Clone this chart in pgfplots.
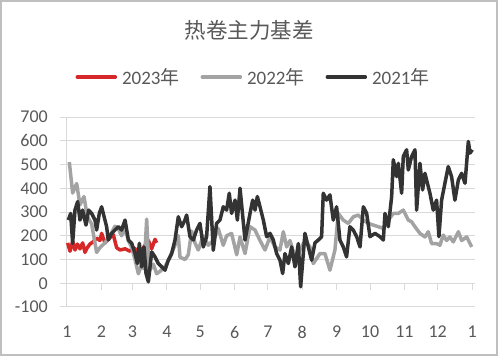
\documentclass[border=0pt]{standalone}
\usepackage{pgfplots}
\pgfplotsset{compat=1.18}
\usepackage{fontspec}
\setmainfont{Carlito}
\newfontfamily\cjk{Noto Sans CJK SC}
\definecolor{c23}{RGB}{214,40,40}
\definecolor{c22}{RGB}{163,163,163}
\definecolor{c21}{RGB}{51,51,51}
\definecolor{txt}{RGB}{89,89,89}
\definecolor{grd}{RGB}{217,217,217}
\definecolor{frm}{RGB}{191,191,191}
\begin{document}
\begin{tikzpicture}[x=1pt,y=1pt]
\path[use as bounding box] (0,0) rectangle (498,356);
\fill[white] (0,0) rectangle (498,356);
\draw[frm, line width=2pt] (1,1) rectangle (497,355);
\node[text=txt, font=\cjk\fontsize{21.5}{24}\selectfont] at (249,326) {热卷主力基差};
\begin{axis}[
  at={(60pt,49pt)}, anchor=south west,
  scale only axis, width=415pt, height=190pt,
  xmin=-6.3, xmax=367.6, ymin=-100, ymax=700,
  axis line style={draw=none},
  ytick={-100,0,100,200,300,400,500,600,700},
  yticklabels={-100,0,100,200,300,400,500,600,700},
  xtick={0,31,59,90,120,151,181,212,243,273,304,334,365},
  xticklabels={1,2,3,4,5,6,7,8,9,10,11,12,1},
  major tick length=0pt,
  ymajorgrids, grid style={grd, line width=1pt},
  tick label style={text=txt, font=\fontsize{18}{20}\selectfont, inner sep=0pt},
  yticklabel style={anchor=east, xshift=-12pt},
  xticklabel style={anchor=north, yshift=-19pt},
  legend columns=3,
  legend style={draw=none, fill=none, at={(0.464,1.2105)}, anchor=center,
    font=\fontsize{19}{21}\selectfont, text=txt, nodes={inner sep=0pt},
    /tikz/every odd column/.append style={column sep=5pt},
    /tikz/every even column/.append style={column sep=21pt}},
  legend image code/.code={\draw[#1, line cap=round] (0pt,0pt) -- (38pt,0pt);},
  every axis plot/.append style={line width=3.5pt, line join=round, mark=none},
]
\draw[grd, line width=1pt] (axis cs:0,-100) -- (axis cs:0,700);
\pgfplotsinvokeforeach{0,31,59,90,120,151,181,212,243,273,304,334,365}{
  \draw[grd, line width=1pt] (axis cs:#1,0) -- ++(0pt,-7pt);
}
\addplot[c23] coordinates {(0.6,170)(2.7,135)(5.1,175)(7.2,140)(9.3,165)(11.7,145)(14.1,170)(16.2,130)(18.3,150)(20.7,165)(23.7,175)(26.7,190)(29.7,180)(31.2,210)(34.2,170)(37.2,185)(41.7,205)(44.7,150)(47.7,140)(52.3,145)(56.8,135)(59.8,150)(62.8,140)(65.8,130)(68.8,150)(73.3,180)(76.3,145)(79.3,185)(80.8,170)};
\addlegendentry{2023{\cjk 年}}
\addplot[c22] coordinates {(2.1,510)(5.1,380)(8.7,420)(11.7,330)(15.3,365)(18.3,280)(22.2,250)(26.7,130)(29.7,150)(34.2,170)(38.7,200)(43.2,240)(46.2,230)(49.2,200)(52.3,230)(55.3,180)(58.3,150)(61.3,100)(64.3,40)(67.3,80)(69.4,60)(71.8,270)(73.9,50)(77.8,80)(80.8,40)(83.8,50)(88.3,70)(92.8,110)(97.3,160)(100.3,200)(101.8,110)(106.3,100)(109.3,120)(112.3,220)(115.3,170)(118.3,140)(122.8,200)(127.3,160)(131.8,180)(136.3,230)(140.8,160)(143.8,200)(148.3,210)(152.9,120)
(155.9,195)(160.4,125)(164.9,238)(169.4,224)(173.9,180)(178.4,140)(182.9,195)(187.4,153)(191.9,140)(194.9,217)(197.9,153)(200.9,180)(205.4,111)(209.9,140)(214.4,180)(218.9,153)(221.9,83)(227.9,125)(232.4,125)(236.9,55)(241.4,140)(244.4,294)(248.9,266)(253.5,252)(258,280)(262.5,287)(267,266)(271.5,252)(276,245)(280.5,238)(285,231)(289.5,266)(294,294)(298.5,294)(303,308)(307.5,266)(310.5,259)(313.5,238)(318,210)(322.5,195)(325.5,217)(328.5,167)(333,167)(336,160)(339,203)(342,180)(345,195)(348,174)(352.6,217)(355.6,180)(360.1,195)(364.6,153)};
\addlegendentry{2022{\cjk 年}}
\addplot[c21] coordinates {(1.2,266)(3.3,294)(5.1,168)(7.2,308)(9.6,344)(11.7,266)(14.1,308)(17.1,245)(19.5,308)(22.2,294)(25.2,266)(26.7,224)(29.1,294)(31.2,322)(34.2,266)(35.7,238)(37.2,182)(40.2,210)(43.2,224)(46.2,238)(49.2,224)(52.3,266)(55.3,182)(58.3,168)(61.3,125)(63.4,83)(65.2,168)(67.3,69)(69.4,153)(71.2,41)(73.3,6)(76.3,132)(79.3,111)(82.3,83)(85.3,69)(88.3,55)(91.3,97)(94.3,125)(97.3,182)(100.3,280)(103.3,238)(106.3,266)(107.8,287)(110.8,196)(113.8,182)(116.8,224)(119.8,252)(122.8,153)(125.8,196)(128.8,407)(131.8,139)(134.8,252)(137.8,266)(140.8,322)(143.8,308)(146.2,379)(148.3,294)(151.4,350)(153.5,266)
(155.9,400)(160.4,182)(164.9,294)(167.3,350)(169.4,308)(171.5,365)(173.9,322)(176.9,266)(179.9,196)(182.9,210)(185.9,182)(188.9,125)(191.9,97)(194.3,41)(196.4,125)(199.4,83)(202.4,153)(205.4,69)(208.4,167)(210.5,-15)(214.4,210)(217.4,153)(220.4,97)(223.4,170)(226.4,182)(229.4,196)(230.9,379)(233.9,350)(236.9,372)(239.9,266)(242.9,322)(245.9,182)(248.9,153)(251.9,111)(254.9,238)(257.9,224)(261,196)(264,153)(267,322)(270,294)(273,196)(277.5,210)(282,196)(285,182)(286.5,294)(289.5,238)(292.5,365)(294,520)(297,449)(298.5,505)(301.5,379)(303,534)(306,562)(307.5,477)(310.5,534)(313.5,562)(315,308)(318,505)(320.4,393)(322.5,463)(325.5,407)(327,379)(330,308)(333,350)(335.1,196)(337.5,350)(340.5,421)(343.5,491)(346.5,449)(349.5,350)(352.6,435)(355.6,463)(358.6,421)(361.6,597)(363.1,548)(365.2,562)};
\addlegendentry{2021{\cjk 年}}
\end{axis}
\end{tikzpicture}
\end{document}
